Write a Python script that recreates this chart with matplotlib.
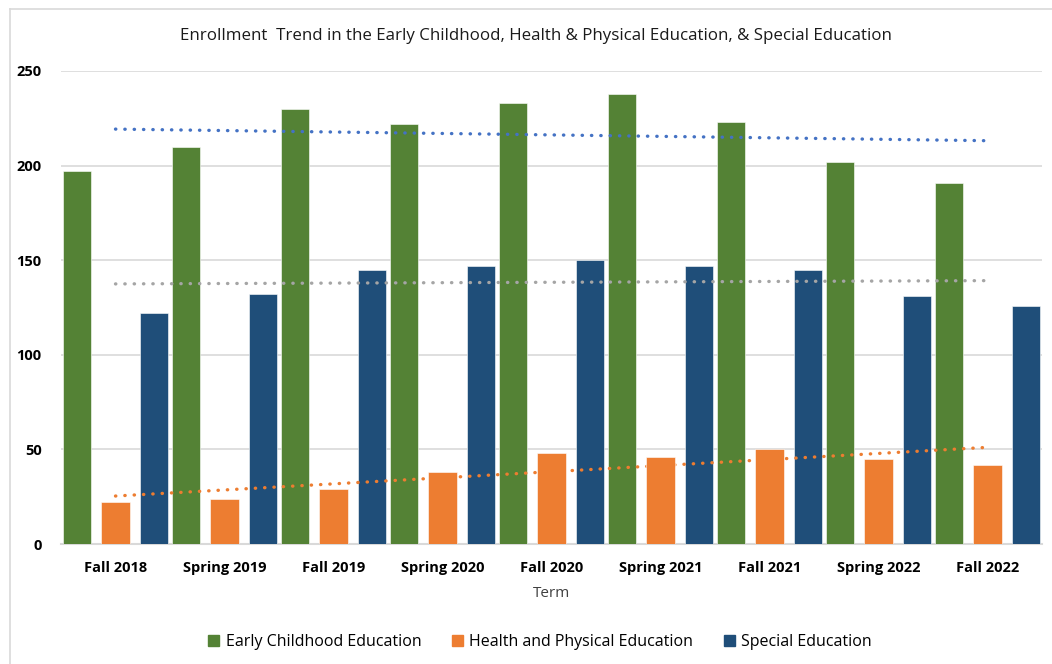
import matplotlib
matplotlib.use("Agg")
import matplotlib.pyplot as plt
import numpy as np
from matplotlib.patches import Patch
from matplotlib.lines import Line2D

terms = ["Fall 2018", "Spring 2019", "Fall 2019", "Spring 2020", "Fall 2020",
         "Spring 2021", "Fall 2021", "Spring 2022", "Fall 2022"]
early_childhood = [197, 210, 230, 222, 233, 238, 223, 202, 191]
health_pe = [22, 24, 29, 38, 48, 46, 50, 45, 42]
special_ed = [122, 132, 145, 147, 150, 147, 145, 131, 126]
series_names = ["Early Childhood Education", "Health and Physical Education", "Special Education"]
yticks = [0, 50, 100, 150, 200, 250]

c_green = "#548235"
c_orange = "#ED7D31"
c_navy = "#1F4E79"
t_blue = "#4472C4"
t_gray = "#A5A5A5"
t_orange = "#ED7D31"

plt.rcParams['font.family'] = ['Open Sans', 'DejaVu Sans']

fig = plt.figure(figsize=(10.52, 6.64), dpi=100)
ax = fig.add_axes([61/1052, 1-544/664, (1042-61)/1052, (544-71)/664])

x = np.arange(len(terms))
w = 0.257
off = 0.355
ax.bar(x - off, early_childhood, w, color=c_green, edgecolor="white", linewidth=0.4, zorder=3)
ax.bar(x, health_pe, w, color=c_orange, edgecolor="white", linewidth=0.4, zorder=5)
ax.bar(x + off, special_ed, w, color=c_navy, edgecolor="white", linewidth=0.4, zorder=3)

# linear trendlines
for vals, col, z in [(early_childhood, t_blue, 6), (special_ed, t_gray, 6), (health_pe, t_orange, 4)]:
    m, b = np.polyfit(x, vals, 1)
    ax.plot(x, m * x + b, color=col, linewidth=2.4, linestyle=(0, (0.1, 2.7)),
            dash_capstyle="round", zorder=z)

ax.set_xlim(-0.5, len(terms) - 0.5)
ax.set_ylim(0, 250)
ax.set_yticks(yticks)
ax.set_yticklabels([str(t) for t in yticks], fontweight="bold", fontsize=10.5)
ax.set_xticks(x)
ax.set_xticklabels(terms, fontweight="bold", fontsize=10.5)
ax.tick_params(axis="both", length=0)
ax.tick_params(axis="y", pad=14)
ax.tick_params(axis="x", pad=12)
ax.grid(axis="y", color="#D9D9D9", linewidth=1.2, zorder=0)
for s in ["top", "right", "left"]:
    ax.spines[s].set_visible(False)
ax.spines["bottom"].set_color("#D9D9D9")
ax.spines["bottom"].set_linewidth(1.5)
ax.set_xlabel("Term", fontsize=11, color="#404040", labelpad=8)

fig.text(536/1052, 1-36/664, "Enrollment  Trend in the Early Childhood, Health & Physical Education, & Special Education",
         ha="center", va="center", fontsize=12.2, color="#1a1a1a")

handles = [Patch(color=c_green), Patch(color=c_orange), Patch(color=c_navy)]
fig.legend(handles, series_names, loc="center", bbox_to_anchor=(540/1052, 1-642/664),
           ncol=3, frameon=False, fontsize=11.5, handlelength=0.7, handleheight=0.7,
           handletextpad=0.4, columnspacing=1.9)

# outer chart border (left and top visible)
fig.add_artist(Line2D([10/1052, 10/1052], [0, 1-9/664], color="#D9D9D9", linewidth=1.2))
fig.add_artist(Line2D([10/1052, 1], [1-9/664, 1-9/664], color="#D9D9D9", linewidth=1.2))

fig.savefig("out.png", dpi=100)
